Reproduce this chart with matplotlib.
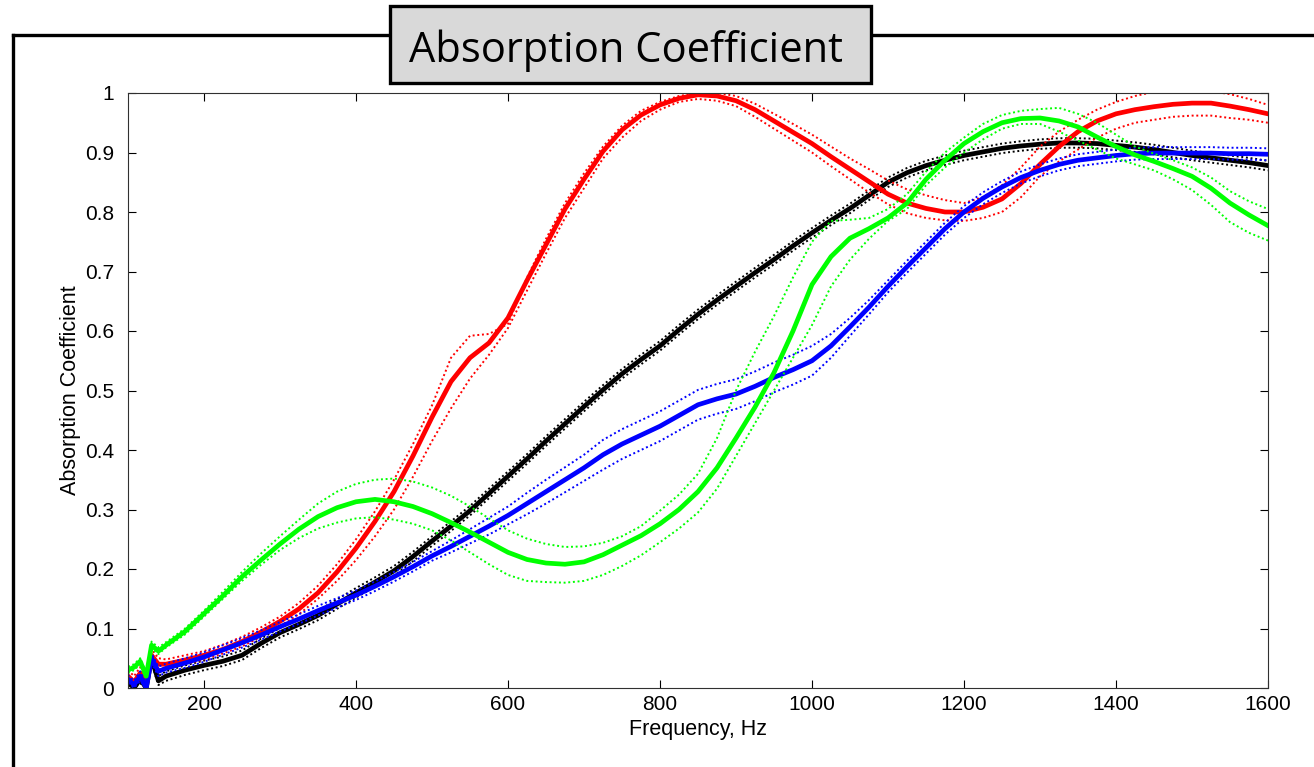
import matplotlib
matplotlib.use("Agg")
import matplotlib.pyplot as plt
from matplotlib.patches import Rectangle
from matplotlib.lines import Line2D

# frequency grid (Hz): noisy low end, then every 25 Hz
freq = [100, 108, 116, 124, 131, 140,
        150, 175, 200, 225, 250, 275, 300, 325, 350, 375, 400, 425, 450, 475,
        500, 525, 550, 575, 600, 625, 650, 675, 700, 725, 750, 775, 800, 825,
        850, 875, 900, 925, 950, 975, 1000, 1025, 1050, 1075, 1100, 1125, 1150,
        1175, 1200, 1225, 1250, 1275, 1300, 1325, 1350, 1375, 1400, 1425, 1450,
        1475, 1500, 1525, 1550, 1575, 1600]

# red sample: mean and the two dotted bounds
red_mean = [0.020, 0.010, 0.025, 0.005, 0.055, 0.040,
            0.040, 0.047, 0.055, 0.065, 0.078, 0.094, 0.112, 0.133, 0.160, 0.195,
            0.235, 0.280, 0.330, 0.390, 0.455, 0.515, 0.555, 0.580, 0.622, 0.685,
            0.745, 0.805, 0.855, 0.902, 0.938, 0.963, 0.980, 0.991, 0.997, 0.995,
            0.987, 0.972, 0.953, 0.934, 0.915, 0.893, 0.872, 0.851, 0.830, 0.815,
            0.806, 0.800, 0.800, 0.808, 0.822, 0.848, 0.880, 0.910, 0.935, 0.953,
            0.965, 0.972, 0.977, 0.981, 0.983, 0.983, 0.978, 0.972, 0.965]
red_hi = [0.030, 0.020, 0.035, 0.015, 0.065, 0.050,
          0.048, 0.055, 0.062, 0.073, 0.086, 0.102, 0.120, 0.143, 0.172, 0.208,
          0.250, 0.297, 0.350, 0.410, 0.475, 0.555, 0.592, 0.595, 0.612, 0.690,
          0.755, 0.815, 0.865, 0.910, 0.945, 0.970, 0.985, 0.995, 1.000, 1.000,
          0.995, 0.982, 0.965, 0.948, 0.930, 0.910, 0.890, 0.872, 0.853, 0.838,
          0.828, 0.820, 0.815, 0.825, 0.845, 0.875, 0.910, 0.935, 0.955, 0.972,
          0.985, 0.995, 1.002, 1.005, 1.005, 1.003, 0.998, 0.990, 0.980]
red_lo = [0.010, 0.002, 0.015, 0.000, 0.045, 0.032,
          0.034, 0.040, 0.048, 0.058, 0.070, 0.086, 0.104, 0.124, 0.150, 0.180,
          0.215, 0.255, 0.300, 0.355, 0.415, 0.470, 0.520, 0.560, 0.605, 0.668,
          0.730, 0.790, 0.840, 0.890, 0.925, 0.953, 0.972, 0.985, 0.990, 0.987,
          0.978, 0.960, 0.940, 0.920, 0.900, 0.877, 0.855, 0.833, 0.813, 0.798,
          0.790, 0.786, 0.785, 0.790, 0.800, 0.825, 0.860, 0.885, 0.905, 0.925,
          0.940, 0.950, 0.955, 0.960, 0.962, 0.962, 0.958, 0.955, 0.950]

# green sample
green_mean = [0.030, 0.035, 0.045, 0.020, 0.072, 0.062,
              0.072, 0.095, 0.125, 0.155, 0.187, 0.215, 0.242, 0.267, 0.288, 0.303,
              0.313, 0.317, 0.313, 0.305, 0.293, 0.278, 0.262, 0.245, 0.228, 0.216,
              0.210, 0.208, 0.212, 0.224, 0.240, 0.256, 0.276, 0.300, 0.330, 0.370,
              0.420, 0.472, 0.530, 0.600, 0.678, 0.725, 0.756, 0.772, 0.790, 0.815,
              0.855, 0.887, 0.915, 0.935, 0.950, 0.957, 0.958, 0.953, 0.943, 0.926,
              0.910, 0.896, 0.885, 0.873, 0.860, 0.840, 0.815, 0.795, 0.777]
green_hi = [0.036, 0.040, 0.050, 0.026, 0.078, 0.068,
            0.077, 0.100, 0.130, 0.162, 0.195, 0.226, 0.255, 0.283, 0.310, 0.330,
            0.343, 0.350, 0.352, 0.347, 0.337, 0.323, 0.305, 0.285, 0.265, 0.251,
            0.242, 0.237, 0.238, 0.244, 0.255, 0.272, 0.298, 0.325, 0.360, 0.420,
            0.500, 0.565, 0.625, 0.690, 0.750, 0.785, 0.787, 0.790, 0.805, 0.830,
            0.868, 0.900, 0.925, 0.948, 0.963, 0.970, 0.973, 0.975, 0.965, 0.950,
            0.930, 0.910, 0.898, 0.887, 0.875, 0.858, 0.835, 0.818, 0.805]
green_lo = [0.025, 0.030, 0.040, 0.015, 0.066, 0.057,
            0.068, 0.090, 0.120, 0.150, 0.180, 0.207, 0.232, 0.252, 0.268, 0.278,
            0.285, 0.287, 0.283, 0.276, 0.265, 0.248, 0.228, 0.208, 0.190, 0.180,
            0.178, 0.177, 0.180, 0.190, 0.205, 0.223, 0.245, 0.268, 0.295, 0.335,
            0.390, 0.445, 0.500, 0.555, 0.610, 0.675, 0.720, 0.755, 0.785, 0.805,
            0.845, 0.875, 0.900, 0.922, 0.940, 0.948, 0.948, 0.935, 0.920, 0.905,
            0.890, 0.880, 0.870, 0.855, 0.837, 0.812, 0.783, 0.765, 0.752]

# blue sample
blue_mean = [0.015, 0.005, 0.020, 0.000, 0.050, 0.028,
             0.033, 0.042, 0.052, 0.064, 0.076, 0.089, 0.103, 0.116, 0.130, 0.143,
             0.156, 0.171, 0.187, 0.204, 0.222, 0.238, 0.255, 0.272, 0.290, 0.310,
             0.330, 0.350, 0.370, 0.392, 0.410, 0.425, 0.440, 0.458, 0.476, 0.486,
             0.494, 0.507, 0.522, 0.535, 0.550, 0.575, 0.607, 0.640, 0.675, 0.708,
             0.740, 0.772, 0.800, 0.823, 0.842, 0.858, 0.870, 0.880, 0.887, 0.891,
             0.895, 0.898, 0.899, 0.899, 0.899, 0.899, 0.898, 0.898, 0.897]
blue_hi = [0.022, 0.012, 0.028, 0.008, 0.058, 0.036,
           0.041, 0.050, 0.060, 0.072, 0.084, 0.097, 0.111, 0.124, 0.138, 0.151,
           0.164, 0.179, 0.195, 0.212, 0.230, 0.248, 0.267, 0.286, 0.305, 0.328,
           0.350, 0.371, 0.392, 0.417, 0.435, 0.450, 0.465, 0.483, 0.501, 0.511,
           0.519, 0.532, 0.547, 0.560, 0.575, 0.595, 0.622, 0.652, 0.685, 0.718,
           0.750, 0.782, 0.810, 0.833, 0.852, 0.868, 0.880, 0.890, 0.897, 0.901,
           0.905, 0.908, 0.909, 0.909, 0.909, 0.909, 0.908, 0.908, 0.907]
blue_lo = [0.008, 0.000, 0.012, 0.000, 0.042, 0.020,
           0.026, 0.034, 0.044, 0.056, 0.068, 0.081, 0.095, 0.108, 0.122, 0.135,
           0.148, 0.163, 0.179, 0.196, 0.214, 0.228, 0.243, 0.258, 0.275, 0.292,
           0.310, 0.329, 0.348, 0.367, 0.385, 0.400, 0.415, 0.433, 0.451, 0.461,
           0.469, 0.482, 0.497, 0.510, 0.525, 0.555, 0.592, 0.628, 0.665, 0.698,
           0.730, 0.762, 0.790, 0.813, 0.832, 0.848, 0.860, 0.870, 0.877, 0.881,
           0.885, 0.888, 0.889, 0.889, 0.889, 0.889, 0.888, 0.888, 0.887]

# black sample
black_mean = [0.010, 0.000, 0.015, 0.000, 0.050, 0.012,
              0.020, 0.030, 0.038, 0.045, 0.055, 0.075, 0.093, 0.107, 0.122, 0.141,
              0.160, 0.178, 0.197, 0.221, 0.247, 0.272, 0.298, 0.327, 0.356, 0.385,
              0.415, 0.444, 0.473, 0.501, 0.528, 0.552, 0.575, 0.602, 0.628, 0.652,
              0.675, 0.698, 0.720, 0.743, 0.765, 0.786, 0.806, 0.828, 0.850, 0.866,
              0.878, 0.887, 0.895, 0.901, 0.907, 0.911, 0.914, 0.916, 0.916, 0.915,
              0.912, 0.909, 0.905, 0.900, 0.895, 0.891, 0.887, 0.883, 0.878]
black_hi = [0.018, 0.008, 0.022, 0.008, 0.058, 0.020,
            0.028, 0.038, 0.046, 0.053, 0.063, 0.083, 0.101, 0.115, 0.130, 0.149,
            0.168, 0.186, 0.205, 0.229, 0.255, 0.280, 0.306, 0.335, 0.364, 0.393,
            0.423, 0.452, 0.481, 0.509, 0.536, 0.560, 0.583, 0.610, 0.636, 0.660,
            0.683, 0.706, 0.728, 0.751, 0.773, 0.794, 0.814, 0.836, 0.858, 0.874,
            0.886, 0.895, 0.903, 0.909, 0.915, 0.919, 0.922, 0.924, 0.924, 0.923,
            0.920, 0.917, 0.913, 0.908, 0.903, 0.899, 0.895, 0.891, 0.886]
black_lo = [0.004, 0.000, 0.008, 0.000, 0.042, 0.005,
            0.012, 0.022, 0.030, 0.037, 0.047, 0.067, 0.085, 0.099, 0.114, 0.133,
            0.152, 0.170, 0.189, 0.213, 0.239, 0.264, 0.290, 0.319, 0.348, 0.377,
            0.407, 0.436, 0.465, 0.493, 0.520, 0.544, 0.567, 0.594, 0.620, 0.644,
            0.667, 0.690, 0.712, 0.735, 0.757, 0.778, 0.798, 0.820, 0.842, 0.858,
            0.870, 0.879, 0.887, 0.893, 0.899, 0.903, 0.906, 0.908, 0.908, 0.907,
            0.904, 0.901, 0.897, 0.892, 0.887, 0.883, 0.879, 0.875, 0.870]

xticks = [200, 400, 600, 800, 1000, 1200, 1400, 1600]
yticks = [0, 0.1, 0.2, 0.3, 0.4, 0.5, 0.6, 0.7, 0.8, 0.9, 1]
ytick_labels = ['0', '0.1', '0.2', '0.3', '0.4', '0.5', '0.6', '0.7', '0.8', '0.9', '1']

plt.rcParams['font.family'] = ['Liberation Sans', 'DejaVu Sans']

W, H = 1314, 767
fig = plt.figure(figsize=(W / 100, H / 100), dpi=100)
ax = fig.add_axes([128 / W, 1 - 688 / H, 1140 / W, 595 / H])

dot = (0, (1, 1.4))
# drawing order: black at the bottom, green on top
series = [
    ('black', black_mean, black_hi, black_lo),
    ('#ff0000', red_mean, red_hi, red_lo),
    ('#0000ff', blue_mean, blue_hi, blue_lo),
    ('#00ff00', green_mean, green_hi, green_lo),
]
for color, mean, hi, lo in series:
    ax.plot(freq, hi, color=color, lw=1.4, ls=dot)
    ax.plot(freq, lo, color=color, lw=1.4, ls=dot)
    ax.plot(freq, mean, color=color, lw=3.4, solid_joinstyle='round')

ax.set_xlim(100, 1600)
ax.set_ylim(0, 1)
ax.set_xticks(xticks)
ax.set_yticks(yticks)
ax.set_yticklabels(ytick_labels)
ax.tick_params(direction='in', top=True, right=True, length=6, width=0.8,
               labelsize=15, colors='black')
ax.tick_params(axis='x', pad=5)
ax.tick_params(axis='y', pad=10)
for s in ax.spines.values():
    s.set_linewidth(0.8)
    s.set_color('#303030')
ax.set_xlabel('Frequency, Hz', fontsize=15.5, labelpad=4)
ax.set_ylabel('Absorption Coefficient', fontsize=15.5, labelpad=3)

# slide frame
fig.add_artist(Line2D([13 / W, 13 / W], [0, 1 - 35 / H], color='black', lw=2.4,
                      transform=fig.transFigure, solid_capstyle='projecting'))
fig.add_artist(Line2D([13 / W, 1], [1 - 35 / H, 1 - 35 / H], color='black', lw=2.4,
                      transform=fig.transFigure, solid_capstyle='projecting'))

# title box
box = Rectangle((390 / W, 1 - 83 / H), 481 / W, 77 / H, transform=fig.transFigure,
                facecolor='#d9d9d9', edgecolor='black', lw=2.4, zorder=5)
fig.add_artist(box)
fig.text(626 / W, 1 - 62 / H, 'Absorption Coefficient', ha='center', va='baseline',
         fontsize=30, family=['Open Sans', 'DejaVu Sans'], zorder=6)

fig.savefig('out.png', dpi=100)
